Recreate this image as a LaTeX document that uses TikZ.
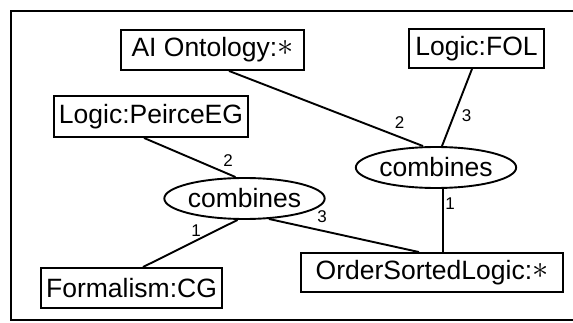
\documentclass[tikz,border=0pt]{standalone}
\usepackage{fontspec}
\setmainfont{Liberation Sans}
\usetikzlibrary{shapes.geometric}
\newcommand{\anyref}{\raisebox{1pt}{\scalebox{1.3}{$\ast$}}}
\tikzset{
  concept/.style={draw, line width=1.9pt, inner sep=0pt, font=\fontsize{26.5}{30}\selectfont},
  relation/.style={draw, ellipse, line width=1.9pt, inner sep=0pt,
    minimum width=145pt, minimum height=41pt, font=\fontsize{26.5}{30}\selectfont},
  arc/.style={line width=1.9pt},
  argno/.style={inner sep=0pt, font=\fontsize{17}{19}\selectfont},
}
\begin{document}
\begin{tikzpicture}[x=1pt, y=-1pt]
\useasboundingbox (0,0) rectangle (573,323);
% outer frame (open towards the right)
\draw[line width=2.6pt] (575,11) -- (11,11) -- (11,320) -- (575,320);

% concepts
\node[concept, minimum width=183pt, minimum height=40pt] (ai) at (212.5,50) {AI Ontology:\anyref};
\node[concept, minimum width=135pt, minimum height=39pt] (fol) at (476.5,48.5) {Logic:FOL};
\node[concept, minimum width=194pt, minimum height=41pt] (peirce) at (151,116.5) {Logic:PeirceEG};
\node[concept, minimum width=181pt, minimum height=40pt] (cg) at (131.5,288) {Formalism:CG};
\node[concept, minimum width=262pt, minimum height=39pt] (osl) at (432,272.5) {OrderSortedLogic:\anyref};

% relations
\node[relation] (c1) at (244.5,198.5) {combines};
\node[relation] (c2) at (436,167.5) {combines};

% arcs
\draw[arc] ([xshift=16.5pt]ai.south) -- ([xshift=-13pt]c2.north);
\draw[arc] ([xshift=-4.5pt]fol.south) -- ([xshift=6pt]c2.north);
\draw[arc] ([xshift=-7pt]peirce.south) -- ([xshift=-9pt]c1.north);
\draw[arc] ([xshift=-7pt]c1.south) -- ([xshift=11.5pt]cg.north);
\draw[arc] (c1.-40) -- ([xshift=-13pt]osl.north);
\draw[arc] ([xshift=7pt]c2.south) -- ([xshift=11pt]osl.north);

% argument numbers
\node[argno] (n1) at (399.5,123) {2};
\node[argno] (n2) at (466.5,116) {3};
\node[argno] (n3) at (228,161) {2};
\node[argno] (n4) at (196,231) {1};
\node[argno] (n5) at (322,217) {3};
\node[argno] (n6) at (450,204) {1};
\end{tikzpicture}
\end{document}
